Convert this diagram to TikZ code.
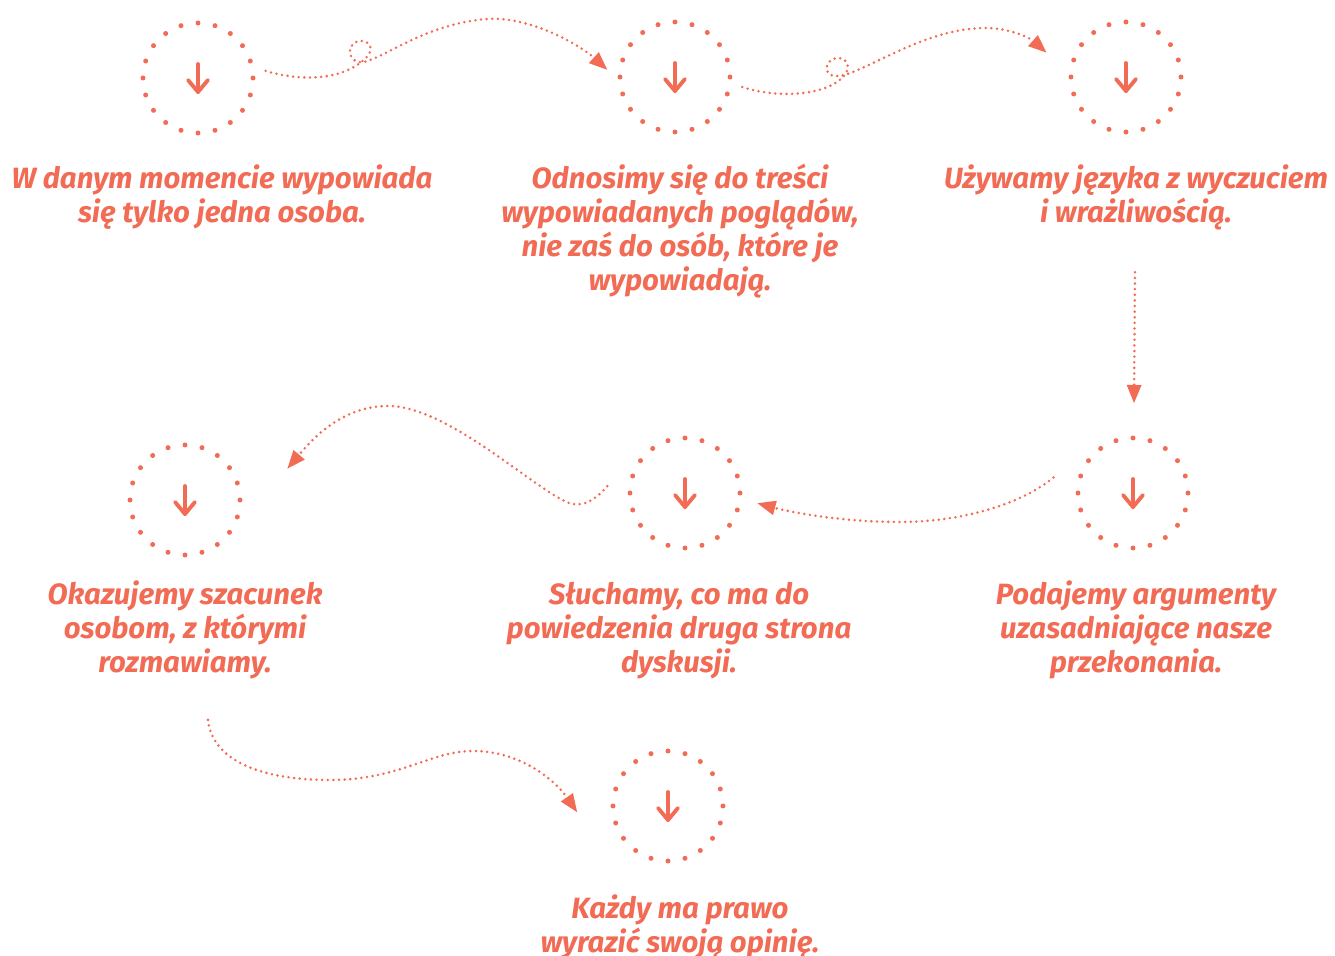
\documentclass[tikz,border=0pt]{standalone}
\usepackage{fontspec}
\setmainfont{Fira Sans}
\usetikzlibrary{arrows.meta,calc}
\definecolor{salmon}{RGB}{242,107,85}
\newcommand\lblstrut{\rule{0pt}{0.3cm}}
\tikzset{
    dotring/.pic = {
    \foreach \a in {0,18,...,342} \fill (\a:0.55) circle (0.025);
    \draw[line width=1.1pt, line cap=round, line join=round] (0,0.14) -- (0,-0.14);
    \draw[line width=1.1pt, line cap=round, line join=round] (-0.1,-0.02) -- (0,-0.14) -- (0.1,-0.02);
    },
    ring/.style = {circle, minimum size=1.1cm, inner sep=0pt},
    lbl/.style = {salmon, font=\bfseries\itshape\fontsize{8.35}{9.67}\selectfont, align=center, inner sep=0pt, anchor=north},
    conn/.style = {salmon, line width=0.8pt, line cap=round, dash pattern=on 0pt off 1.6pt, -{Triangle[length=5.2pt,width=4pt]}}
}
\begin{document}
\begin{tikzpicture}[line cap=round,line join=round,x=1.0cm,y=1.0cm]
\useasboundingbox (0,0) rectangle (13.35,-9.56);
\node [ring] (r1) at (1.98,-0.78) {};
\node [ring] (r2) at (6.75,-0.77) {};
\node [ring] (r3) at (11.26,-0.77) {};
\node [ring] (r4) at (11.33,-4.93) {};
\node [ring] (r5) at (6.85,-4.93) {};
\node [ring] (r6) at (1.85,-5.00) {};
\node [ring] (r7) at (6.68,-8.06) {};
\foreach \n in {1,...,7} \path (r\n) pic[salmon] {dotring};

\node [lbl] (t1) at (2.22,-1.58) {\lblstrut W danym momencie wypowiada\\ się tylko jedna osoba.};
\node [lbl] (t2) at (6.80,-1.58) {\lblstrut Odnosimy się do treści\\ wypowiadanych poglądów,\\ nie zaś do osób, które je\\ wypowiadają.};
\node [lbl] (t3) at (11.36,-1.58) {\lblstrut Używamy języka z wyczuciem\\ i wrażliwością.};
\node [lbl] (t4) at (11.36,-5.74) {\lblstrut Podajemy argumenty\\ uzasadniające nasze\\ przekonania.};
\node [lbl] (t5) at (6.79,-5.74) {\lblstrut Słuchamy, co ma do\\ powiedzenia druga strona\\ dyskusji.};
\node [lbl] (t6) at (1.85,-5.74) {\lblstrut Okazujemy szacunek\\ osobom, z którymi\\ rozmawiamy.};
\node [lbl] (t7) at (6.80,-8.88) {\lblstrut Każdy ma prawo\\ wyrazić swoją opinię.};

\draw [conn] ($(r1)+(6:0.68)$) .. controls (2.95,-0.80) and (3.40,-0.83) .. (3.66,-0.58) .. controls (3.76,-0.48) and (3.68,-0.40) .. (3.60,-0.41) .. controls (3.48,-0.42) and (3.46,-0.58) .. (3.58,-0.62) .. controls (3.75,-0.66) and (4.20,-0.24) .. (4.87,-0.19) .. controls (5.30,-0.16) and (5.80,-0.45) .. ($(r2)+(174:0.68)$);
\draw [conn] ($(r2)+(-8.5:0.68)$) .. controls (7.75,-0.98) and (8.25,-0.97) .. (8.44,-0.76) .. controls (8.52,-0.66) and (8.46,-0.58) .. (8.38,-0.58) .. controls (8.26,-0.58) and (8.22,-0.74) .. (8.34,-0.76) .. controls (8.55,-0.80) and (9.20,-0.28) .. (9.85,-0.28) .. controls (10.10,-0.28) and (10.30,-0.38) .. ($(r3)+(163:0.83)$);
\draw [conn] ($(r4.north)+(0.02,1.65)$) -- ($(r4.north)+(0.01,0.34)$);
\draw [conn] ($(r4)+(169:0.81)$) .. controls (10.20,-5.05) and (9.60,-5.22) .. (9.00,-5.22) .. controls (8.40,-5.22) and (7.90,-5.12) .. ($(r5)+(-8:0.73)$);
\draw [conn] ($(r5)+(175:0.78)$) .. controls (5.95,-5.00) and (5.85,-5.06) .. (5.72,-5.04) .. controls (5.40,-4.95) and (4.50,-4.06) .. (3.88,-4.06) .. controls (3.40,-4.06) and (3.10,-4.42) .. ($(r6)+(17:1.07)$);
\draw [conn] ($(t6.south)+(0.23,-0.40)$) .. controls (2.12,-7.60) and (2.60,-7.80) .. (3.30,-7.80) .. controls (4.00,-7.80) and (4.30,-7.51) .. (4.73,-7.51) .. controls (5.20,-7.51) and (5.55,-7.80) .. ($(r7)+(184:0.91)$);
\end{tikzpicture}
\end{document}
